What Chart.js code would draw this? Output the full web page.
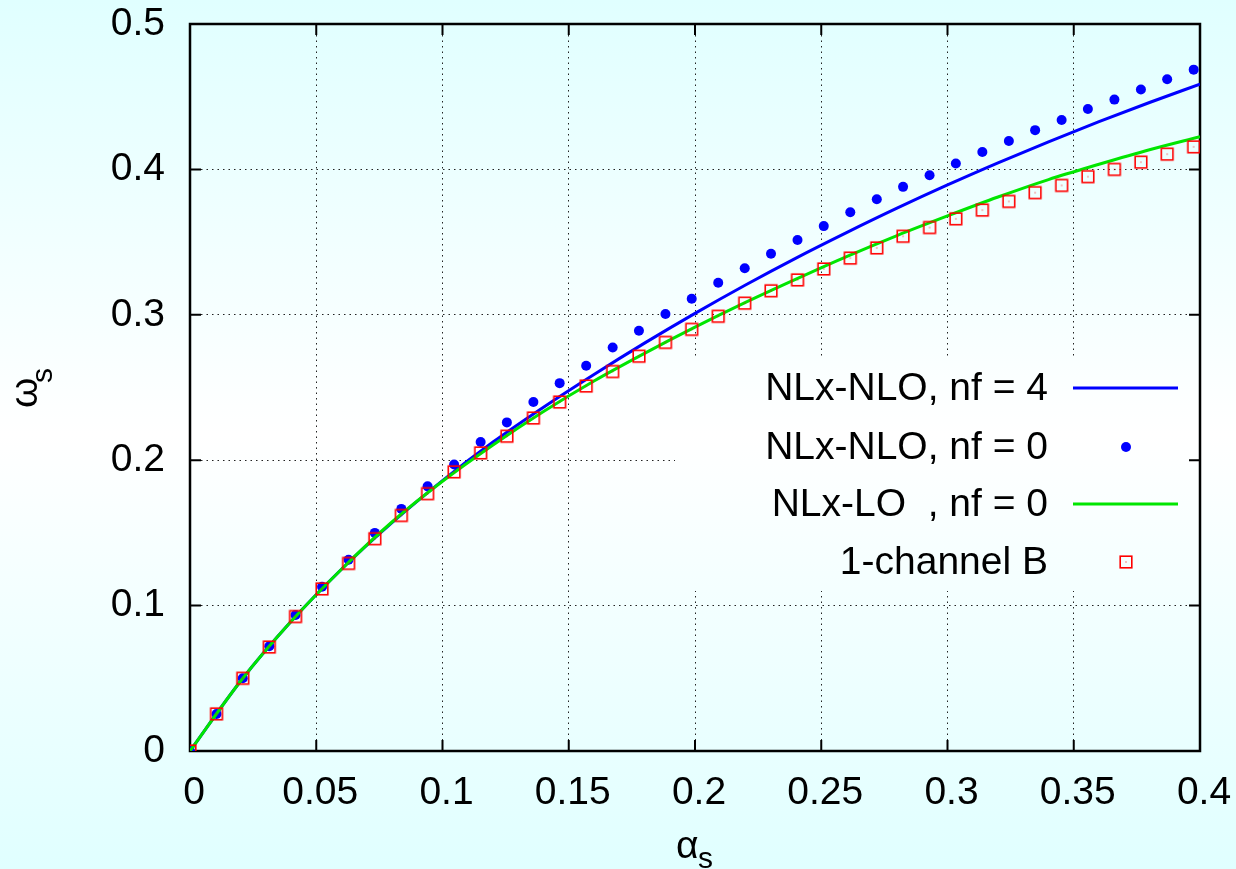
<!DOCTYPE html>
<html>
<head>
<meta charset="utf-8">
<script src="https://cdn.jsdelivr.net/npm/chart.js@4/dist/chart.umd.min.js"></script>
<style>
html,body{margin:0;padding:0;background:#e0ffff;}
canvas{display:block;}
</style>
</head>
<body>
<canvas id="c" width="1236" height="869"></canvas>
<script>
// ---- data ----
const pointAlpha = [0, 0.0105, 0.0209, 0.0314, 0.0418, 0.0523, 0.0628, 0.0732, 0.0837, 0.0941,
  0.1046, 0.1151, 0.1255, 0.136, 0.1464, 0.1569, 0.1674, 0.1778, 0.1883, 0.1987,
  0.2092, 0.2197, 0.2301, 0.2406, 0.251, 0.2615, 0.272, 0.2824, 0.2929, 0.3033,
  0.3138, 0.3243, 0.3347, 0.3452, 0.3556, 0.3661, 0.3766, 0.387, 0.3975];
const nloNf0 = [0, 0.0255, 0.050, 0.072, 0.0935, 0.113, 0.1315, 0.150, 0.1665, 0.182,
  0.197, 0.2125, 0.226, 0.240, 0.253, 0.265, 0.2775, 0.289, 0.3005, 0.311,
  0.322, 0.332, 0.342, 0.3515, 0.361, 0.3705, 0.3795, 0.388, 0.396, 0.404,
  0.412, 0.4195, 0.427, 0.434, 0.4415, 0.448, 0.455, 0.462, 0.4686];
const channelB = [0, 0.0255, 0.050, 0.0715, 0.0925, 0.1115, 0.129, 0.146, 0.162, 0.177,
  0.192, 0.205, 0.2165, 0.229, 0.240, 0.251, 0.261, 0.2715, 0.281, 0.290,
  0.299, 0.308, 0.3165, 0.324, 0.3315, 0.339, 0.346, 0.354, 0.360, 0.366,
  0.372, 0.378, 0.384, 0.389, 0.395, 0.400, 0.405, 0.4105, 0.4155];
const curveAlpha = [0, 0.02, 0.04, 0.06, 0.08, 0.10, 0.12, 0.14, 0.16, 0.18, 0.20,
  0.22, 0.24, 0.26, 0.28, 0.30, 0.32, 0.34, 0.36, 0.38, 0.40];
const nloNf4 = [0, 0.048, 0.089, 0.125, 0.157, 0.186, 0.2125, 0.2365, 0.259, 0.2805, 0.301,
  0.3205, 0.339, 0.3565, 0.3733, 0.3893, 0.4045, 0.419, 0.4328, 0.446, 0.4586];
const loNf0 = [0, 0.048, 0.089, 0.125, 0.1575, 0.1855, 0.2105, 0.2335, 0.2545, 0.2735, 0.2915,
  0.3085, 0.3245, 0.340, 0.3545, 0.368, 0.381, 0.393, 0.4035, 0.4135, 0.4225];
const xTicks = [0, 0.05, 0.1, 0.15, 0.2, 0.25, 0.3, 0.35, 0.4];
const xTickLabels = ['0', '0.05', '0.1', '0.15', '0.2', '0.25', '0.3', '0.35', '0.4'];
const yTicks = [0, 0.1, 0.2, 0.3, 0.4, 0.5];
const yTickLabels = ['0', '0.1', '0.2', '0.3', '0.4', '0.5'];
const seriesLabels = ['NLx-NLO, nf = 4', 'NLx-NLO, nf = 0', 'NLx-LO  , nf = 0', '1-channel B'];

// ---- styling ----
const FONT = "'Liberation Sans', Arial, Helvetica, sans-serif";
const FS = 39;
const BLUE = '#0000ff';
const GREEN = '#00e600';
const RED = '#ff0000';

function pairs(xs, ys) { return xs.map((x, i) => ({x: x, y: ys[i]})); }

function makeSquare() {
  const c = document.createElement('canvas');
  c.width = 16; c.height = 16;
  const g = c.getContext('2d');
  g.strokeStyle = RED; g.lineWidth = 1.6;
  g.strokeRect(2.2, 2.2, 11.6, 11.6);
  g.fillStyle = RED; g.fillRect(7.5, 7.5, 1, 1);
  return c;
}
const squareImg = makeSquare();

function bgGradient(ctx, h) {
  const g = ctx.createLinearGradient(0, 0, 0, h);
  g.addColorStop(0, '#e0ffff');
  g.addColorStop(0.5, '#ffffff');
  g.addColorStop(1, '#e0ffff');
  return g;
}

const decor = {
  id: 'decor',
  beforeDraw(chart) {
    const ctx = chart.ctx;
    ctx.save();
    ctx.fillStyle = bgGradient(ctx, chart.height);
    ctx.fillRect(0, 0, chart.width, chart.height);
    ctx.restore();
  },
  beforeDatasetsDraw(chart) {
    const ctx = chart.ctx;
    const a = chart.chartArea;
    const xs = chart.scales.x, ys = chart.scales.y;
    ctx.save();
    // opaque key box
    ctx.fillStyle = bgGradient(ctx, chart.height);
    ctx.fillRect(675, 359, a.right - 675, 232);
    // border
    ctx.strokeStyle = '#000';
    ctx.lineWidth = 2.5;
    ctx.strokeRect(a.left, a.top, a.right - a.left, a.bottom - a.top);
    // inward ticks (mirrored)
    ctx.lineWidth = 2;
    const TL = 11;
    ctx.beginPath();
    xTicks.forEach(v => {
      const p = xs.getPixelForValue(v);
      ctx.moveTo(p, a.bottom); ctx.lineTo(p, a.bottom - TL);
      ctx.moveTo(p, a.top); ctx.lineTo(p, a.top + TL);
    });
    yTicks.forEach(v => {
      const p = ys.getPixelForValue(v);
      ctx.moveTo(a.left, p); ctx.lineTo(a.left + TL, p);
      ctx.moveTo(a.right, p); ctx.lineTo(a.right - TL, p);
    });
    ctx.stroke();
    // key
    const rows = [388, 447, 504, 562];
    ctx.font = FS + 'px ' + FONT;
    ctx.fillStyle = '#000';
    ctx.textAlign = 'right';
    ctx.textBaseline = 'middle';
    seriesLabels.forEach((t, i) => ctx.fillText(t, 1048, rows[i] + 1));
    ctx.lineWidth = 3;
    ctx.strokeStyle = BLUE;
    ctx.beginPath(); ctx.moveTo(1073, rows[0]); ctx.lineTo(1178, rows[0]); ctx.stroke();
    ctx.strokeStyle = GREEN;
    ctx.beginPath(); ctx.moveTo(1073, rows[2]); ctx.lineTo(1178, rows[2]); ctx.stroke();
    ctx.fillStyle = BLUE;
    ctx.beginPath(); ctx.arc(1126, rows[1], 5, 0, Math.PI * 2); ctx.fill();
    ctx.drawImage(squareImg, 1126 - 8, rows[3] - 8);
    // axis titles
    ctx.fillStyle = '#000';
    ctx.textAlign = 'left';
    ctx.textBaseline = 'alphabetic';
    ctx.font = FS + 'px ' + FONT;
    ctx.fillText('\u03b1', 676, 858);
    ctx.font = '30px ' + FONT;
    ctx.fillText('s', 698, 868);
    ctx.translate(37, 408);
    ctx.rotate(-Math.PI / 2);
    ctx.font = FS + 'px ' + FONT;
    ctx.fillText('\u03c9', 0, 0);
    ctx.font = '30px ' + FONT;
    ctx.fillText('s', 25, 15);
    ctx.restore();
  }
};

new Chart(document.getElementById('c'), {
  type: 'scatter',
  data: {
    datasets: [
      {label: seriesLabels[3], data: pairs(pointAlpha, channelB), pointStyle: squareImg,
       showLine: false, order: 0},
      {label: seriesLabels[2], data: pairs(curveAlpha, loNf0), showLine: true, borderColor: GREEN,
       borderWidth: 3, pointRadius: 0, cubicInterpolationMode: 'monotone', order: 1},
      {label: seriesLabels[1], data: pairs(pointAlpha, nloNf0), showLine: false, pointStyle: 'circle',
       pointRadius: 5, backgroundColor: BLUE, borderWidth: 0, order: 2},
      {label: seriesLabels[0], data: pairs(curveAlpha, nloNf4), showLine: true, borderColor: BLUE,
       borderWidth: 3, pointRadius: 0, cubicInterpolationMode: 'monotone', order: 3}
    ]
  },
  options: {
    responsive: false,
    animation: false,
    events: [],
    layout: {padding: {left: 0, top: 24, right: 36, bottom: 0}},
    plugins: {legend: {display: false}, tooltip: {enabled: false}},
    scales: {
      x: {
        type: 'linear', min: 0, max: 0.4,
        afterBuildTicks: s => { s.ticks = xTicks.map(v => ({value: v})); },
        afterFit: s => { s.height = 118; s.paddingLeft = 0; s.paddingRight = 0; },
        ticks: {callback: (v, i) => xTickLabels[i], font: {family: FONT, size: FS}, color: '#000',
                padding: 19, labelOffset: 4, maxRotation: 0, autoSkip: false},
        grid: {color: '#222', lineWidth: 1, drawTicks: false},
        border: {display: false, dash: [1.5, 4]}
      },
      y: {
        type: 'linear', min: 0, max: 0.5,
        afterBuildTicks: s => { s.ticks = yTicks.map(v => ({value: v})); },
        afterFit: s => { s.width = 190; s.paddingTop = 0; s.paddingBottom = 0; },
        ticks: {callback: (v, i) => yTickLabels[i], font: {family: FONT, size: FS}, color: '#000',
                padding: 25, autoSkip: false},
        grid: {color: '#222', lineWidth: 1, drawTicks: false},
        border: {display: false, dash: [1.5, 4]}
      }
    }
  },
  plugins: [decor]
});
</script>
</body>
</html>
